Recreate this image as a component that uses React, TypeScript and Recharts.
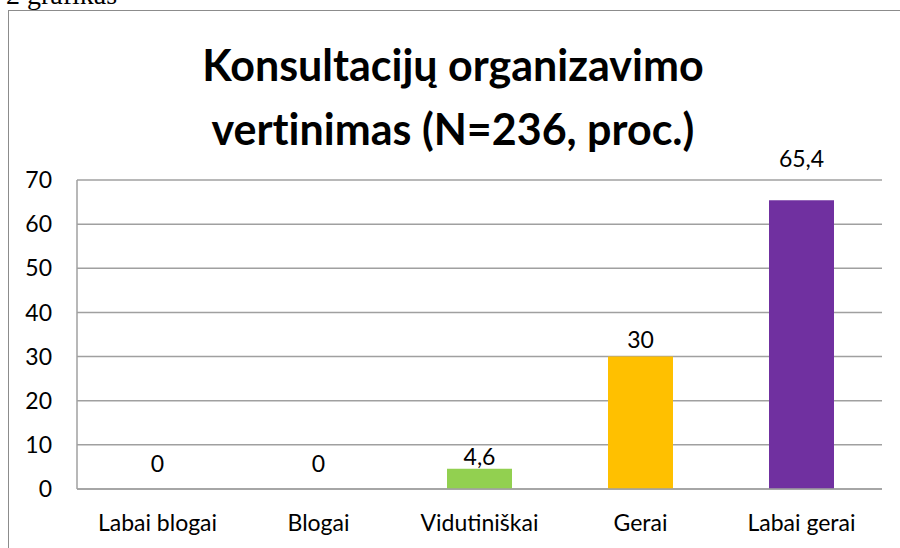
import React from 'react';
import { BarChart, Bar, XAxis, YAxis, CartesianGrid, Cell, ReferenceDot } from 'recharts';

const categories = ['Labai blogai', 'Blogai', 'Vidutiniškai', 'Gerai', 'Labai gerai'];
const values = [0, 0, 4.6, 30, 65.4];
const yTicks = [0, 10, 20, 30, 40, 50, 60, 70];

const barColors = ['#92D050', '#92D050', '#92D050', '#FFC000', '#7030A0'];
// how far above the bar top each label baseline sits (hand-placed in the original)
const labelLift = [17, 17, 4, 9, 33];

const FONT = 'Lato, "Open Sans", sans-serif';
const TXT = 23;

const data = categories.map((name, i) => ({ name, value: values[i] }));

function makeLabel(i: number) {
  return (props: any) => {
    const vb = props.viewBox || {};
    return (
      <text
        x={vb.x + (vb.width || 0) / 2}
        y={vb.y + (vb.height || 0) / 2 - labelLift[i]}
        textAnchor="middle"
        fontSize={TXT}
        fontFamily={FONT}
        fill="#000"
      >
        {String(values[i]).replace('.', ',')}
      </text>
    );
  };
}

export default function App() {
  return (
    <div style={{ position: 'absolute', left: 0, top: 0, width: 900, height: 548, overflow: 'hidden', background: '#fff' }}>
      <div style={{
        position: 'absolute', left: 6, top: -17, fontFamily: '"Liberation Serif", serif',
        fontSize: 28, lineHeight: '24px', color: '#000', whiteSpace: 'nowrap'
      }}>2 grafikas</div>

      <div style={{
        position: 'absolute', left: 8, top: 10, width: 1000, height: 700,
        border: '1.5px solid #8c8c8c', boxSizing: 'border-box'
      }} />

      <div style={{
        position: 'absolute', left: 0, width: 906, top: 33, textAlign: 'center',
        fontFamily: FONT, fontWeight: 700, fontSize: 43, lineHeight: '64px', color: '#000',
        fontVariantLigatures: 'none'
      }}>
        Konsultacijų organizavimo<br />vertinimas (N=236, proc.)
      </div>

      <div style={{ position: 'absolute', left: 0, top: 0 }}>
        <BarChart
          width={900}
          height={548}
          data={data}
          margin={{ top: 180, right: 18, bottom: 0, left: 17 }}
        >
          <CartesianGrid vertical={false} stroke="#a0a0a0" strokeWidth={1.5} />
          <XAxis
            dataKey="name"
            height={59}
            tickLine={false}
            axisLine={{ stroke: '#a0a0a0', strokeWidth: 1.5 }}
            tickSize={0}
            tickMargin={26}
            interval={0}
            tick={{ fontSize: TXT, fontFamily: FONT, fill: '#000' }}
          />
          <YAxis
            width={60}
            domain={[0, 70]}
            ticks={yTicks}
            interval={0}
            tickLine={false}
            axisLine={{ stroke: '#a0a0a0', strokeWidth: 1.5 }}
            tickSize={0}
            tickMargin={25}
            tick={{ fontSize: TXT, fontFamily: FONT, fill: '#000' }}
          />
          <Bar dataKey="value" barSize={65} isAnimationActive={false}>
            {data.map((d, i) => (
              <Cell key={d.name} fill={barColors[i]} />
            ))}
          </Bar>
          {data.map((d, i) => (
            <ReferenceDot
              key={'lbl-' + d.name}
              x={d.name}
              y={d.value}
              r={0}
              fill="none"
              stroke="none"
              ifOverflow="visible"
              label={makeLabel(i)}
            />
          ))}
        </BarChart>
      </div>
    </div>
  );
}
